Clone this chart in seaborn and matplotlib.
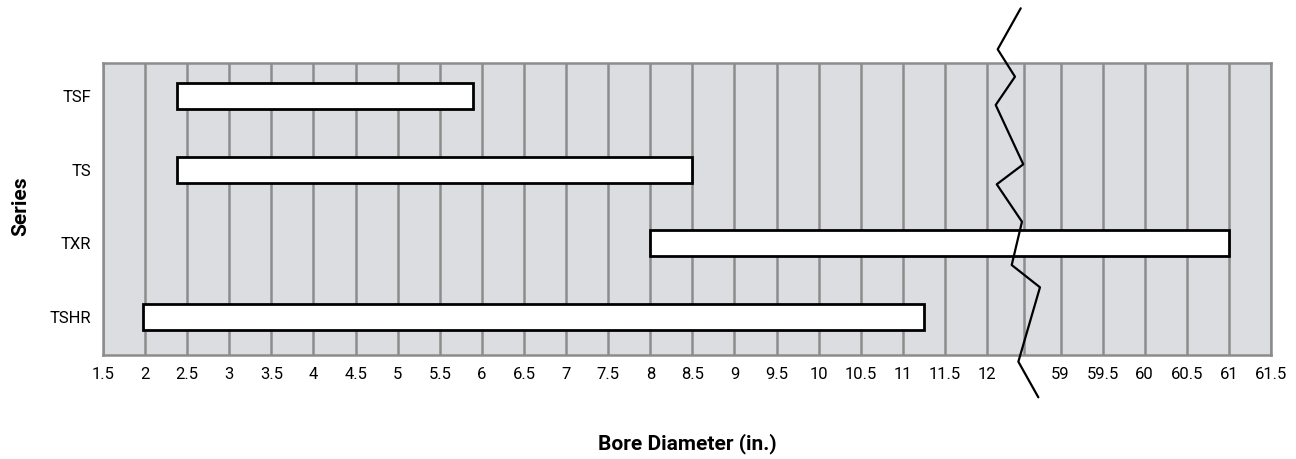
import numpy as np
import pandas as pd
import seaborn as sns
import matplotlib.pyplot as plt

# bore ranges per series (inches)
series = ["TSF", "TS", "TXR", "TSHR"]
bore_min = [2.38, 2.38, 8.0, 1.97]
bore_max = [5.9, 8.5, 61.0, 11.25]

ticks_low = [1.5, 2, 2.5, 3, 3.5, 4, 4.5, 5, 5.5, 6, 6.5, 7, 7.5, 8, 8.5,
             9, 9.5, 10, 10.5, 11, 11.5, 12]
ticks_high = [59, 59.5, 60, 60.5, 61, 61.5]

# axis break: 12 -> 59 squeezed into a short gap
BRK_LO, BRK_HI, GAP = 12.0, 59.0, 0.873


def fwd(v):
    v = np.asarray(v, dtype=float)
    mid = BRK_LO + (v - BRK_LO) * GAP / (BRK_HI - BRK_LO)
    return np.where(v <= BRK_LO, v, np.where(v >= BRK_HI, v - BRK_HI + BRK_LO + GAP, mid))


def inv(u):
    u = np.asarray(u, dtype=float)
    mid = BRK_LO + (u - BRK_LO) * (BRK_HI - BRK_LO) / GAP
    return np.where(u <= BRK_LO, u, np.where(u >= BRK_LO + GAP, u - BRK_LO - GAP + BRK_HI, mid))


df = pd.DataFrame({"series": series, "lo": bore_min, "hi": bore_max})
df["span"] = df["hi"] - df["lo"]

sns.set_style("white")
plt.rcParams["font.family"] = ["Roboto", "DejaVu Sans"]
plt.rcParams["text.color"] = "black"
plt.rcParams["xtick.color"] = "black"
plt.rcParams["ytick.color"] = "black"
plt.rcParams["axes.labelcolor"] = "black"

grid_col = "#8c8c8c"
fig = plt.figure(figsize=(12.96, 4.59), dpi=100)
ax = fig.add_axes([103 / 1296, 1 - 355 / 459, 1168 / 1296, 292 / 459])
ax.set_facecolor("#dcdde0")

sns.barplot(data=df, x="span", y="series", order=series, left=df["lo"].to_numpy(),
            color="white", saturation=1, edgecolor="black", linewidth=2,
            width=0.35, ax=ax, zorder=3)

ax.set_xscale("function", functions=(fwd, inv))
ax.set_xlim(1.5, 61.5)
ax.set_ylim(3.52, -0.45)

xt = ticks_low + ticks_high
ax.set_xticks(xt)
ax.set_xticklabels(["%g" % t for t in xt])
ax.set_xticks([(BRK_LO + BRK_HI) / 2], minor=True)
ax.grid(axis="x", which="both", color=grid_col, linewidth=1.8, zorder=1)
ax.set_axisbelow(True)
ax.tick_params(axis="both", which="both", length=0, labelsize=12, pad=8.5,
               labelcolor="black")

for s in ax.spines.values():
    s.set_visible(True)
    s.set_color(grid_col)
    s.set_linewidth(1.8)

ax.set_xlabel("Bore Diameter (in.)", fontsize=15, fontweight="bold")
ax.set_ylabel("Series", fontsize=15, fontweight="bold")
ax.xaxis.set_label_coords(0.5, -0.268)
ax.yaxis.set_label_coords(-0.0625, 0.509)

# zigzag break marker (axes fraction)
zz_x = [0.7857, 0.7660, 0.7808, 0.7643, 0.7879, 0.7652, 0.7868, 0.7780, 0.8022, 0.7837, 0.8008]
zz_y = [1.1873, 1.0469, 0.9531, 0.8562, 0.6531, 0.5846, 0.4565, 0.3082, 0.2318, -0.0229, -0.1449]
ax.plot(zz_x, zz_y, color="black", linewidth=1.6, transform=ax.transAxes,
        clip_on=False, zorder=5)

fig.savefig("out.png", dpi=100)
